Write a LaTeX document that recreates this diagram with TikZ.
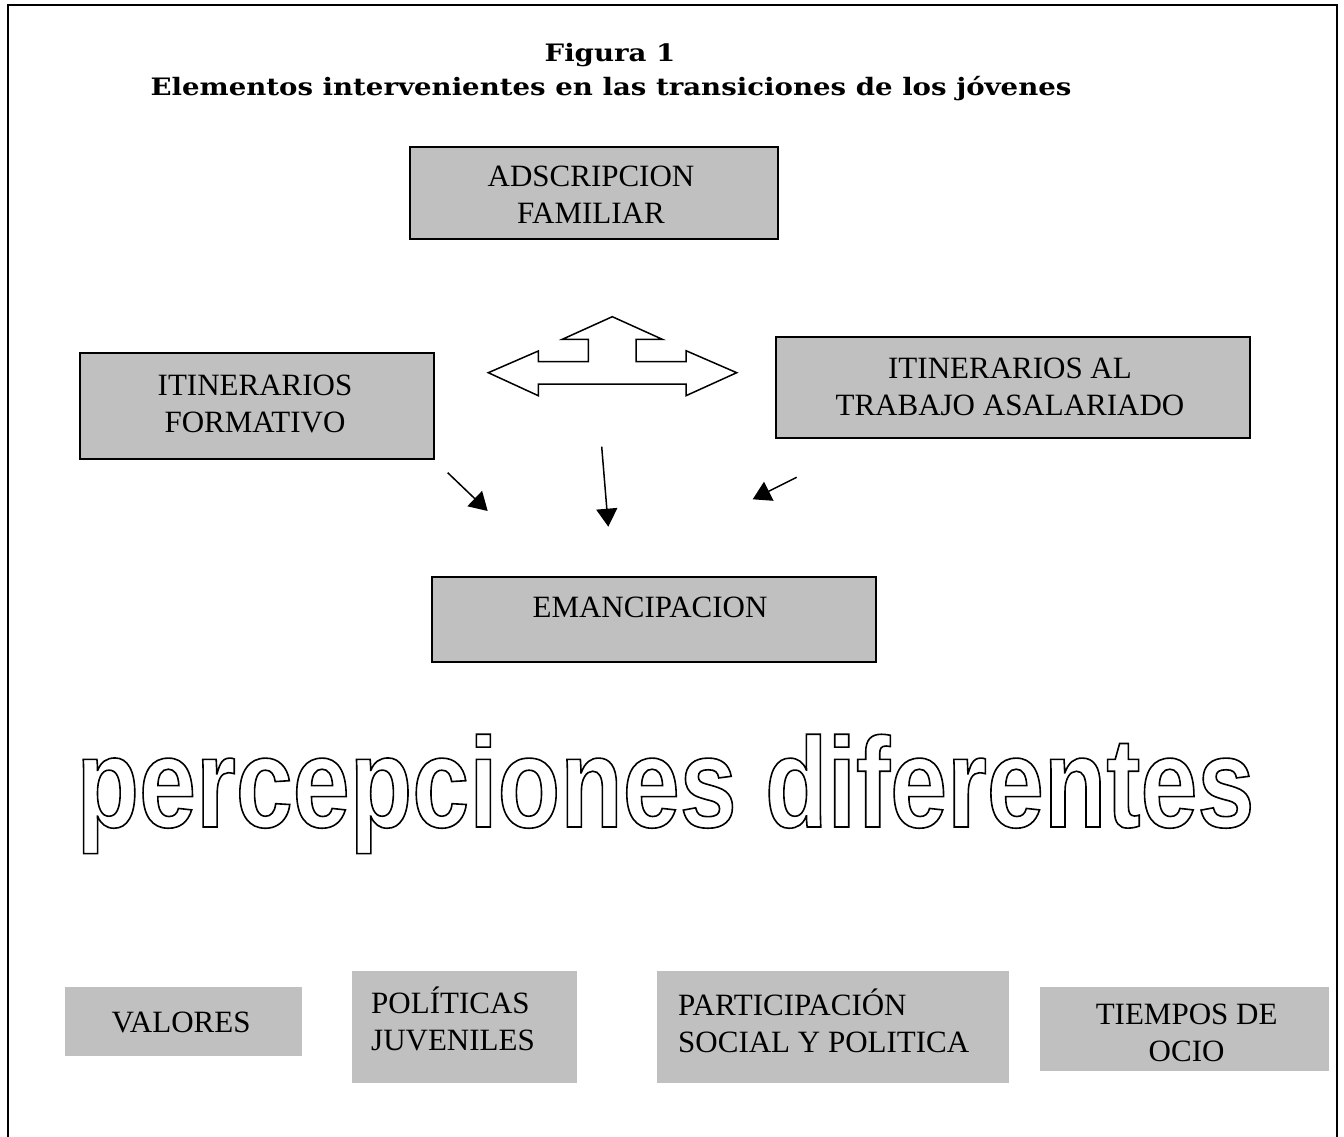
\documentclass[tikz,border=0pt]{standalone}
\usepackage{fontspec}
\setmainfont{Liberation Serif}
\newfontfamily\titlefont[FakeStretch=1.15]{DejaVu Serif}
\newfontfamily\outfont[FakeStretch=0.80]{Liberation Sans}
\usetikzlibrary{arrows.meta}
\definecolor{boxgray}{HTML}{C0C0C0}
\newcommand\outlinetext[1]{\special{pdf:literal direct 1 Tr 1.6 w}#1\special{pdf:literal direct 0 Tr}}
\begin{document}
\begin{tikzpicture}[x=1pt,y=-1pt,
  bordered/.style={draw=black,line width=2pt,fill=boxgray,inner sep=0pt},
  plainbox/.style={fill=boxgray,inner sep=0pt},
  boxtext/.style={font=\fontsize{31}{37}\selectfont,inner sep=0pt},
  titletext/.style={font=\titlefont\bfseries\fontsize{24}{30}\selectfont,inner sep=0pt},
  conn/.style={line width=1.5pt,-{Triangle[length=18pt,width=21pt]}},
  bigarrow/.style={draw=black,line width=1.5pt,fill=white,line join=miter}
]
\useasboundingbox (0,0) rectangle (1344,1137);
\fill[white] (0,0) rectangle (1344,1137);
% frame
\draw[line width=2pt] (8,1150) -- (8,5) -- (1337,5) -- (1337,1150);

% title
\node[titletext,anchor=base] (fig) at (610,62) {Figura 1};
\node[titletext,anchor=base] (elem) at (611,96) {Elementos intervenientes en las transiciones de los jóvenes};

% top boxes
\node[bordered,minimum width=368pt,minimum height=92.5pt] (adscr) at (594,193) {};
\node[boxtext,align=center] (adscrt) at (591,195) {ADSCRIPCION\\FAMILIAR};

\node[bordered,minimum width=354pt,minimum height=106pt] (itform) at (257,406) {};
\node[boxtext,align=center] (itformt) at (255,404) {ITINERARIOS\\FORMATIVO};

\node[bordered,minimum width=474pt,minimum height=101pt] (ittrab) at (1013,387.5) {};
\node[boxtext,align=center] (ittrabt) at (1010,386.5) {ITINERARIOS AL\\TRABAJO ASALARIADO};

\node[bordered,minimum width=444pt,minimum height=85pt] (eman) at (654,619.5) {};
\node[boxtext] (emant) at (650,607) {EMANCIPACION};

% three-headed block arrow
\draw[bigarrow] (488.3,372.7) -- (538.3,351) -- (538.3,361.7) -- (588.3,361.7)
  -- (588.3,339.3) -- (562.3,339.3) -- (612.3,316.7) -- (662.3,339.3)
  -- (636,339.3) -- (636,361.7) -- (686,361.7) -- (686,350.7)
  -- (736.7,372.7) -- (686,395.7) -- (686,384) -- (538.3,384)
  -- (538.3,395.7) -- cycle;

% arrows toward EMANCIPACION
\coordinate (a1s) at (447.7,472.7);
\coordinate (a1e) at (487.7,511);
\coordinate (a2s) at (601.7,446.7);
\coordinate (a2e) at (608.3,526.7);
\coordinate (a3s) at (796.7,477.3);
\coordinate (a3e) at (752.7,499.3);
\draw[conn] (a1s) -- (a1e);
\draw[conn] (a2s) -- (a2e);
\draw[conn] (a3s) -- (a3e);

% outlined text
\node[anchor=base,inner sep=0pt] (perc) at (665.5,827)
  {\outfont\bfseries\fontsize{128}{130}\selectfont\outlinetext{percepciones diferentes}};

% bottom boxes
\node[plainbox,minimum width=237.5pt,minimum height=69pt] (valores) at (183.25,1021.5) {};
\node[boxtext] (valorest) at (181,1022) {VALORES};

\node[plainbox,minimum width=225pt,minimum height=112pt] (polit) at (464.5,1027) {};
\node[boxtext,align=left,anchor=west] (politt) at (371,1019) {POLÍTICAS\\JUVENILES};

\node[plainbox,minimum width=352.4pt,minimum height=112pt] (partic) at (832.8,1027) {};
\node[boxtext,align=left,anchor=west] (partict) at (678,1021) {PARTICIPACIÓN\\SOCIAL Y POLITICA};

\node[plainbox,minimum width=289pt,minimum height=84pt] (tiempos) at (1184.5,1029) {};
\node[boxtext,align=center] (tiempost) at (1186.6,1032.5) {TIEMPOS DE\\OCIO};
\end{tikzpicture}
\end{document}
